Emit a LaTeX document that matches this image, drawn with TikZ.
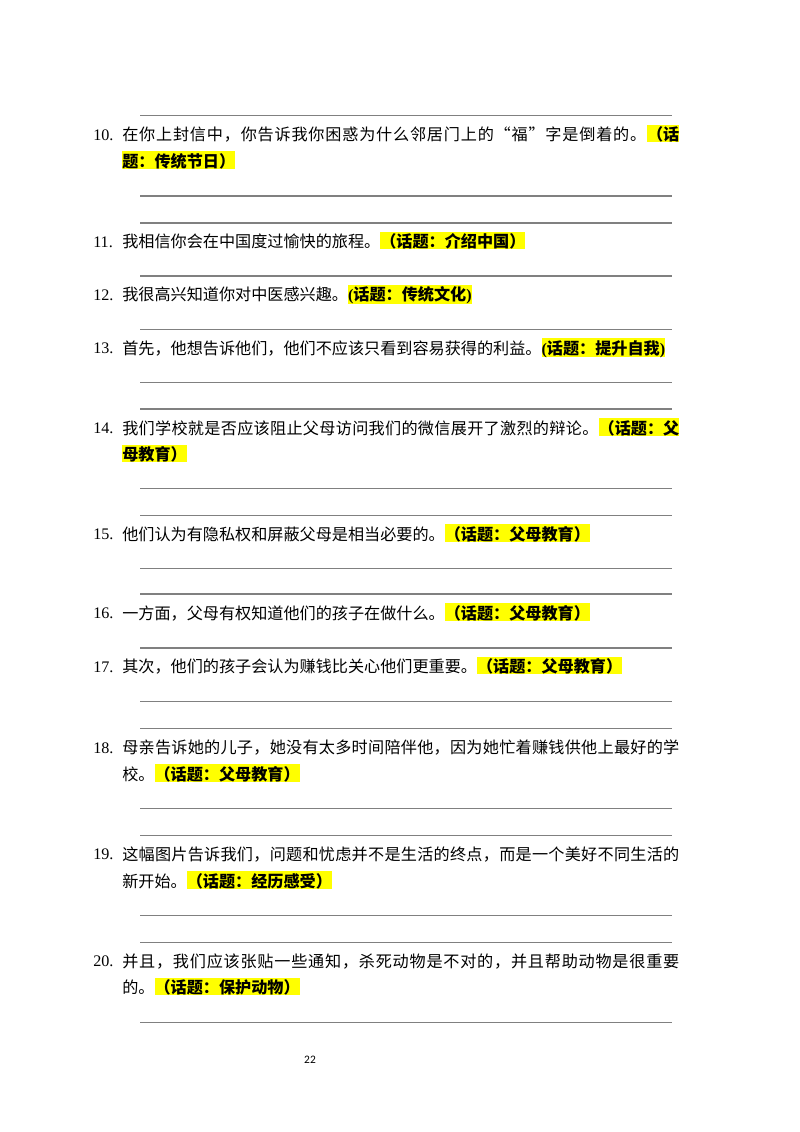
\documentclass[tikz,border=0pt]{standalone}
\usepackage{fontspec}
\setmainfont{Liberation Serif}
\newfontfamily\cjk{Noto Sans CJK SC}
\newfontfamily\tnr{Liberation Serif}
\newfontfamily\pagefont{Carlito}
\setlength{\parindent}{0pt}
\definecolor{hly}{RGB}{255,255,0}
\definecolor{rulegray}{RGB}{128,128,128}
\newcommand{\hl}[1]{{\setlength{\fboxsep}{0pt}\colorbox{hly}{\vrule width0pt height0.98em depth0.1em\bfseries #1}}}
\newcommand{\lpar}{{\tnr\bfseries(}}
\newcommand{\rpar}{{\tnr\bfseries)}}
\makeatletter
\newcommand{\spreadline}[2]{\hbox to #1{\@tfor\sp@tok:=#2\do{\sp@tok\hfil}\unskip}}
\makeatother
\begin{document}
\begin{tikzpicture}[x=0.7441pt,y=-0.7441pt,
  num/.style={anchor=base west,inner sep=0pt,font=\tnr\fontsize{12}{14}\selectfont},
  row/.style={anchor=base west,inner sep=0pt,font=\cjk\fontsize{12}{14}\selectfont},
  wline/.style={draw=rulegray,line width=0.8pt},
  pnum/.style={inner sep=0pt,font=\pagefont\fontsize{8.5}{10}\selectfont}]
\useasboundingbox[fill=white] (0,0) rectangle (800,1132);
% writing lines
\foreach \yy [count=\i] in {115.3,196,223,276,329.3,382.3,409,488.7,515.7,568.7,594,648,701.7,728.7,808.7,835.7,915.7,942.3,1022.3}{
  \coordinate (la\i) at (140,\yy);
  \coordinate (lb\i) at (672,\yy);
  \draw[wline] (la\i) -- (lb\i);
}
% 10
\node[num] (n10) at (93,140) {10.};
\node[row] (t10a) at (122,140.5) {\spreadline{414.5pt}{在你上封信中，你告诉我你困惑为什么邻居门上的“福”字是倒着的。{\hl{（话}}}};
\node[row] (t10b) at (122,167.2) {\hl{题：传统节日）}};
% 11
\node[num] (n11) at (93,247) {11.};
\node[row] (t11) at (122,247.5) {我相信你会在中国度过愉快的旅程。\hl{（话题：介绍中国）}};
% 12
\node[num] (n12) at (93,300) {12.};
\node[row] (t12) at (122,300.5) {我很高兴知道你对中医感兴趣。\hl{\lpar 话题：传统文化\rpar}};
% 13
\node[num] (n13) at (93,353.5) {13.};
\node[row] (t13) at (122,354) {首先，他想告诉他们，他们不应该只看到容易获得的利益。\hl{\lpar 话题：提升自我\rpar}};
% 14
\node[num] (n14) at (93,433.5) {14.};
\node[row] (t14a) at (122,434) {\spreadline{414.5pt}{我们学校就是否应该阻止父母访问我们的微信展开了激烈的辩论。{\hl{（话题：父}}}};
\node[row] (t14b) at (122,460.8) {\hl{母教育）}};
% 15
\node[num] (n15) at (93,539.5) {15.};
\node[row] (t15) at (122,540) {他们认为有隐私权和屏蔽父母是相当必要的。\hl{（话题：父母教育）}};
% 16
\node[num] (n16) at (93,618.5) {16.};
\node[row] (t16) at (122,619) {一方面，父母有权知道他们的孩子在做什么。\hl{（话题：父母教育）}};
% 17
\node[num] (n17) at (93,672) {17.};
\node[row] (t17) at (122,672.5) {其次，他们的孩子会认为赚钱比关心他们更重要。\hl{（话题：父母教育）}};
% 18
\node[num] (n18) at (93,753) {18.};
\node[row] (t18a) at (122,753.5) {\spreadline{414.5pt}{母亲告诉她的儿子，她没有太多时间陪伴他，因为她忙着赚钱供他上最好的学}};
\node[row] (t18b) at (122,780.2) {校。\hl{（话题：父母教育）}};
% 19
\node[num] (n19) at (93,859.8) {19.};
\node[row] (t19a) at (122,860.3) {\spreadline{414.5pt}{这幅图片告诉我们，问题和忧虑并不是生活的终点，而是一个美好不同生活的}};
\node[row] (t19b) at (122,887) {新开始。\hl{（话题：经历感受）}};
% 20
\node[num] (n20) at (93,966.5) {20.};
\node[row] (t20a) at (122,967) {\spreadline{414.5pt}{并且，我们应该张贴一些通知，杀死动物是不对的，并且帮助动物是很重要}};
\node[row] (t20b) at (122,993.6) {的。\hl{（话题：保护动物）}};
% page number
\node[pnum] (pg) at (310,1060) {22};
\end{tikzpicture}
\end{document}
